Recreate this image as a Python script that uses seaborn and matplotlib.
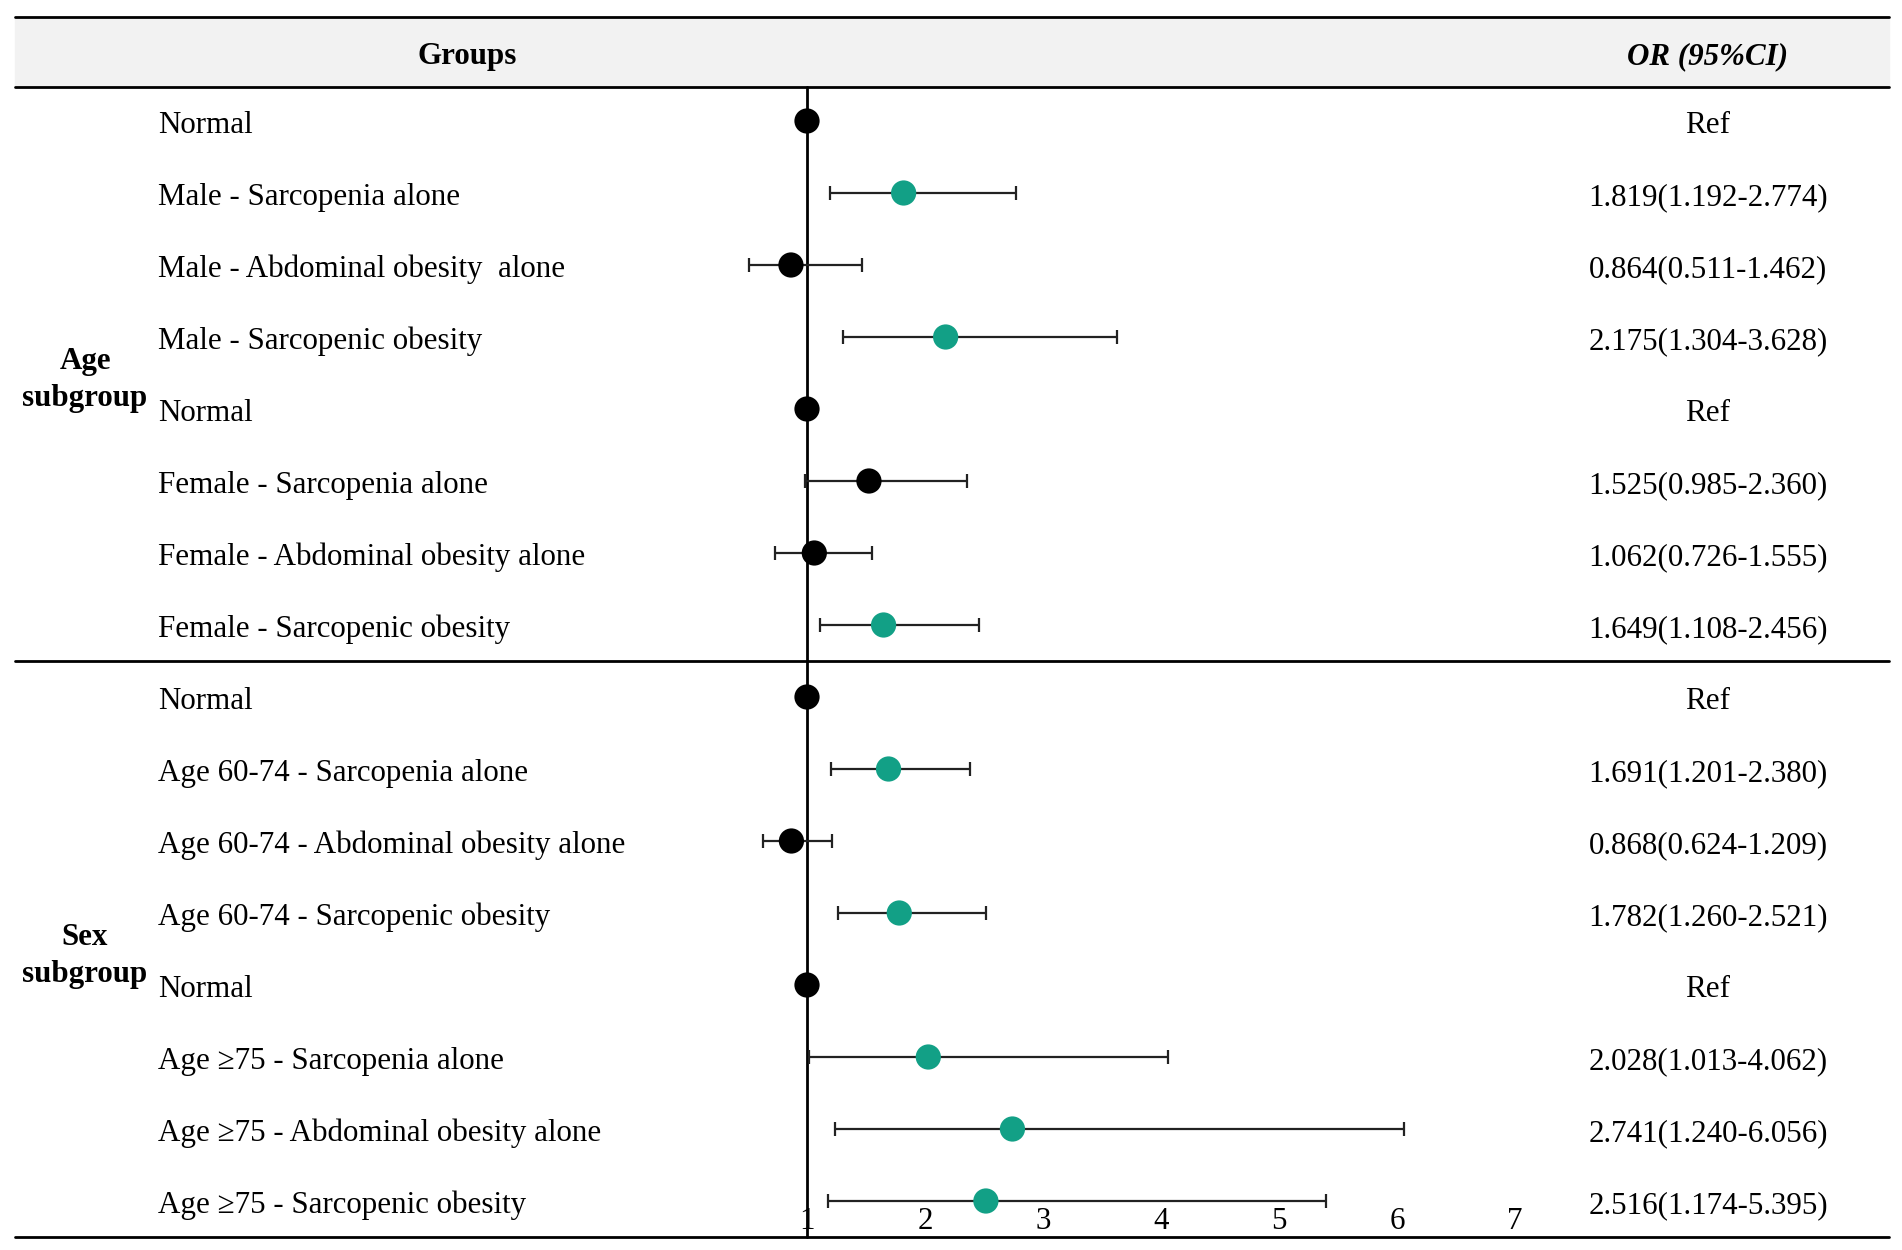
import numpy as np
import pandas as pd
import matplotlib
matplotlib.use("Agg")
import matplotlib.pyplot as plt
import matplotlib.transforms as mtransforms
import seaborn as sns

sns.set_style("white")
plt.rcParams["font.family"] = ["Liberation Serif", "DejaVu Serif"]
plt.rcParams["text.color"] = "black"

# Rows of the forest plot (top to bottom)
labels = [
    "Normal",
    "Male - Sarcopenia alone",
    "Male - Abdominal obesity  alone",
    "Male - Sarcopenic obesity",
    "Normal",
    "Female - Sarcopenia alone",
    "Female - Abdominal obesity alone",
    "Female - Sarcopenic obesity",
    "Normal",
    "Age 60-74 - Sarcopenia alone",
    "Age 60-74 - Abdominal obesity alone",
    "Age 60-74 - Sarcopenic obesity",
    "Normal",
    "Age \u226575 - Sarcopenia alone",
    "Age \u226575 - Abdominal obesity alone",
    "Age \u226575 - Sarcopenic obesity",
]
or_vals = [1.0, 1.819, 0.864, 2.175, 1.0, 1.525, 1.062, 1.649,
           1.0, 1.691, 0.868, 1.782, 1.0, 2.028, 2.741, 2.516]
ci_low = [np.nan, 1.192, 0.511, 1.304, np.nan, 0.985, 0.726, 1.108,
          np.nan, 1.201, 0.624, 1.260, np.nan, 1.013, 1.240, 1.174]
ci_high = [np.nan, 2.774, 1.462, 3.628, np.nan, 2.360, 1.555, 2.456,
           np.nan, 2.380, 1.209, 2.521, np.nan, 4.062, 6.056, 5.395]
or_text = ["Ref", "1.819(1.192-2.774)", "0.864(0.511-1.462)", "2.175(1.304-3.628)",
           "Ref", "1.525(0.985-2.360)", "1.062(0.726-1.555)", "1.649(1.108-2.456)",
           "Ref", "1.691(1.201-2.380)", "0.868(0.624-1.209)", "1.782(1.260-2.521)",
           "Ref", "2.028(1.013-4.062)", "2.741(1.240-6.056)", "2.516(1.174-5.395)"]
groups = ["Age\nsubgroup", "Sex\nsubgroup"]
group_rows = [3.6, 11.6]
x_ticks = [1, 2, 3, 4, 5, 6, 7]

TEAL = "#12a086"
df = pd.DataFrame({"label": labels, "or": or_vals, "lo": ci_low, "hi": ci_high})
df["row"] = np.arange(len(df))
df["sig"] = np.where(df["lo"] > 1, "sig", "ns")

W, H = 1902, 1250
fig = plt.figure(figsize=(W / 100, H / 100), dpi=100)
ax = fig.add_axes([0, 0, 1, 1])

# map: x=1 at pixel 807, 118 px per unit; row i at pixel 121 + 72*i
x0_px, unit = 807, 118
xlim = (1 - x0_px / unit, 1 + (W - x0_px) / unit)
ylim = ((H - 121) / 72, -121 / 72)

y_top, y_head, y_mid, y_bot = -1.444, -0.472, 7.5, 15.5
xl, xr = 15 / W, 1889 / W

# header band
ax.axhspan(y_head, y_top, xmin=xl, xmax=xr, color="#f2f2f2", zorder=0)
for yy in [y_top, y_head, y_mid, y_bot]:
    ax.axhline(yy, xmin=xl, xmax=xr, color="black", lw=2, zorder=2)

# reference line at OR = 1
ax.plot([1, 1], [y_head, y_bot], color="black", lw=2, zorder=2)

# error bars
ci = df.dropna(subset=["lo"])
ax.errorbar(ci["or"], ci["row"],
            xerr=[ci["or"] - ci["lo"], ci["hi"] - ci["or"]],
            fmt="none", ecolor="#222222", elinewidth=1.6, capsize=5, capthick=1.6,
            zorder=3)

sns.scatterplot(data=df, x="or", y="row", hue="sig",
                palette={"sig": TEAL, "ns": "black"}, s=330,
                edgecolor="none", legend=False, ax=ax, zorder=4)
ax.set_xlim(*xlim)
ax.set_ylim(*ylim)
ax.axis("off")

fs = 22.3
dy = 0.06  # text sits a touch below the dot centre
trans = mtransforms.blended_transform_factory(fig.transFigure, ax.transData)

# header
ax.text(467 / W, (y_top + y_head) / 2 + dy, "Groups", transform=trans,
        ha="center", va="center", fontsize=fs, fontweight="bold")
ax.text(1708 / W, (y_top + y_head) / 2 + dy, "OR (95%CI)", transform=trans,
        ha="center", va="center", fontsize=fs, fontweight="bold", fontstyle="italic")

for i, (lab, txt) in enumerate(zip(labels, or_text)):
    ax.text(158 / W, i + dy, lab, transform=trans, ha="left", va="center", fontsize=fs)
    ax.text(1708 / W, i + dy, txt, transform=trans, ha="center", va="center", fontsize=fs)

for g, r in zip(groups, group_rows):
    ax.text(85 / W, r, g, transform=trans, ha="center", va="center",
            fontsize=fs, fontweight="bold", linespacing=1.35)

# x tick labels drawn inside the table, above the bottom rule
for t in x_ticks:
    ax.text(t, 15.28, str(t), ha="center", va="center", fontsize=fs)

fig.savefig("out.png", dpi=100)
